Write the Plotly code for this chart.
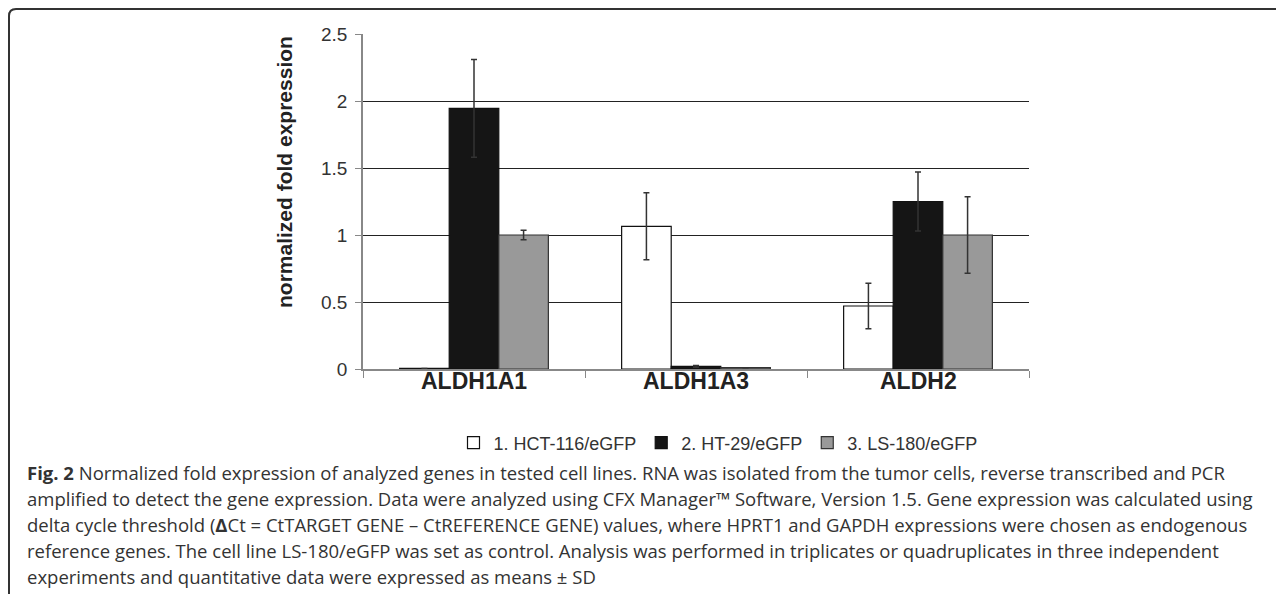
import plotly.graph_objects as go

genes = ["ALDH1A1", "ALDH1A3", "ALDH2"]
series_names = ["1. HCT-116/eGFP", "2. HT-29/eGFP", "3. LS-180/eGFP"]
hct_vals = [0.004, 1.065, 0.47]
hct_err = [0.0, 0.25, 0.17]
ht_vals = [1.945, 0.02, 1.25]
ht_err = [0.365, 0.007, 0.22]
ls_vals = [1.0, 0.01, 1.0]
ls_err = [0.035, 0.0, 0.285]
y_ticks = [0, 0.5, 1, 1.5, 2, 2.5]
y_tick_text = ["0", "0.5", "1", "1.5", "2", "2.5"]

caption_lines = [
    "<b>Fig. 2</b> Normalized fold expression of analyzed genes in tested cell lines. RNA was isolated from the tumor cells, reverse transcribed and PCR",
    "amplified to detect the gene expression. Data were analyzed using CFX Manager™ Software, Version 1.5. Gene expression was calculated using",
    "delta cycle threshold (<b>Δ</b>Ct = CtTARGET GENE – CtREFERENCE GENE) values, where HPRT1 and GAPDH expressions were chosen as endogenous",
    "reference genes. The cell line LS-180/eGFP was set as control. Analysis was performed in triplicates or quadruplicates in three independent",
    "experiments and quantitative data were expressed as means ± SD",
]

# The page body has an 8px default margin, so the figure starts at (8, 8)
OFF = 8
W, H = 1284 - OFF, 594 - OFF
# plot area in screen pixels
SL, SR, ST, SB = 363, 1029, 34, 369
L, R, T, B = SL - OFF, SR - OFF, ST - OFF, SB - OFF


def px(x):
    return (x - OFF - L) / (R - L)


def py(y):
    return (B - (y - OFF)) / (B - T)


fills = ["#ffffff", "#151515", "#999999"]
outlines = ["#111111", "#111111", "#333333"]
vals = [hct_vals, ht_vals, ls_vals]
errs = [hct_err, ht_err, ls_err]

fig = go.Figure()
for name, v, e, fc, lc in zip(series_names, vals, errs, fills, outlines):
    fig.add_trace(go.Bar(
        x=genes, y=v, name=name,
        marker=dict(color=fc, line=dict(color=lc, width=1.2)),
        error_y=dict(type="data", array=e, visible=True, color="#333333",
                     thickness=1.5, width=3),
    ))

font_arial = "Liberation Sans, Arial, sans-serif"
fig.update_layout(
    width=W, height=H,
    margin=dict(l=L, r=W - R, t=T, b=H - B, autoexpand=False),
    paper_bgcolor="white", plot_bgcolor="white",
    barmode="group", bargap=0.33, bargroupgap=0.0,
    showlegend=True,
    legend=dict(orientation="h", x=px(718), xanchor="center",
                y=py(443), yanchor="middle",
                font=dict(family=font_arial, size=18, color="#333333"),
                traceorder="normal", itemwidth=30),
    font=dict(family=font_arial, color="#333333"),
)
fig.update_yaxes(
    range=[0, 2.5], tickvals=y_ticks, ticktext=y_tick_text,
    showgrid=True, gridcolor="#222222", gridwidth=1,
    zeroline=False, showline=True, linecolor="#888888", linewidth=1.5,
    ticks="outside", ticklen=6, tickcolor="#888888", ticklabelstandoff=4,
    tickfont=dict(family=font_arial, size=19, color="#333333"),
)
fig.update_xaxes(
    showline=True, linecolor="#888888", linewidth=1.5,
    ticks="outside", ticklen=7, tickcolor="#888888", tickson="boundaries",
    showticklabels=False,
)

annotations = [dict(
    text="<b>normalized fold expression</b>", xref="paper", yref="paper",
    x=px(284), y=py(172), textangle=-90, showarrow=False,
    font=dict(family=font_arial, size=21, color="#222222"),
    xanchor="center", yanchor="middle",
)]
for g in genes:
    annotations.append(dict(
        text=f"<b>{g}</b>", xref="x", yref="paper", x=g, y=py(381),
        xanchor="center", yanchor="middle", showarrow=False,
        font=dict(family=font_arial, size=23, color="#222222"),
    ))
for i, line in enumerate(caption_lines):
    annotations.append(dict(
        text=line, xref="paper", yref="paper",
        x=px(25), y=py(472 + 26.2 * i), xanchor="left", yanchor="middle",
        showarrow=False, align="left",
        font=dict(family="Open Sans, sans-serif", size=18.5, color="#333333"),
    ))
fig.update_layout(annotations=annotations)

# rounded frame: left edge and top edge
r = 7
x0, y0 = 9, 9
path = (f"M {px(x0)},{py(600)} L {px(x0)},{py(y0 + r)} "
        f"Q {px(x0)},{py(y0)} {px(x0 + r)},{py(y0)} L {px(1290)},{py(y0)}")
fig.add_shape(type="path", path=path, xref="paper", yref="paper",
              line=dict(color="#333333", width=2))

fig.write_html("out.html")
